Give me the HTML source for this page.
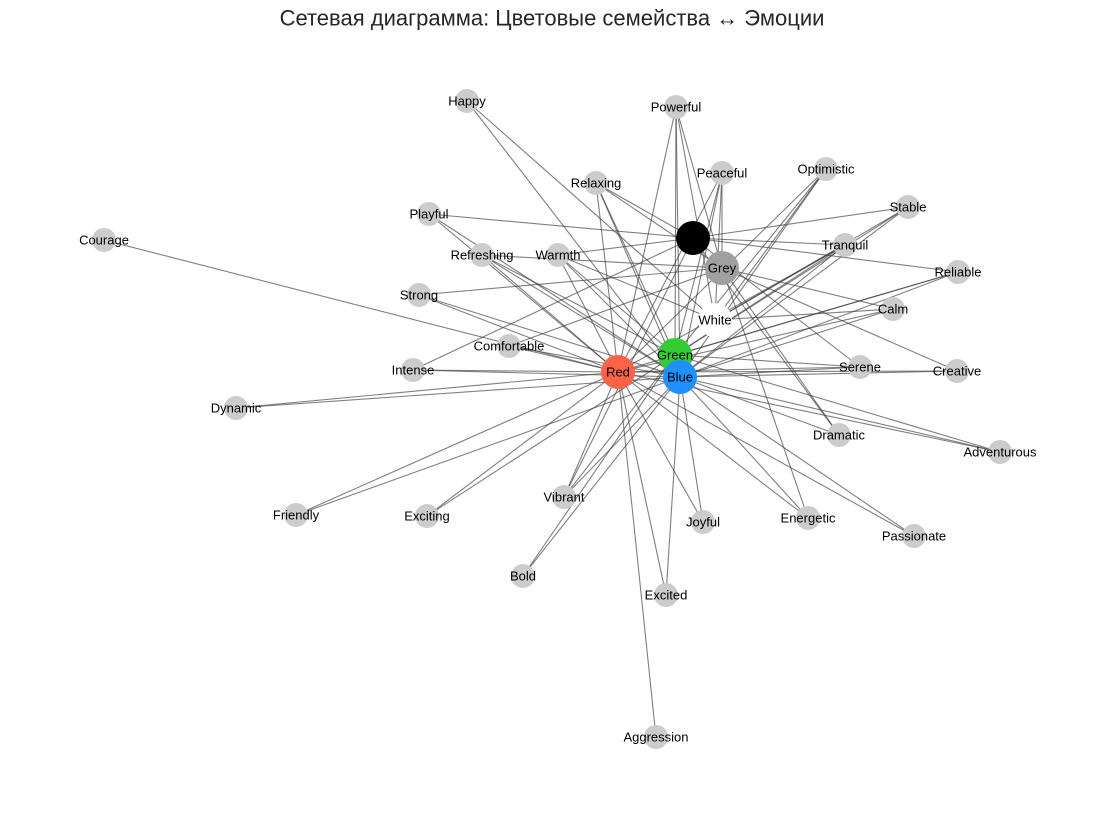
<!DOCTYPE html>
<html><head><meta charset="utf-8"><style>
html,body{margin:0;padding:0;background:#fff;}
svg{display:block;font-family:"Liberation Sans","DejaVu Sans",sans-serif;}
text{font-size:13px;fill:#000;text-anchor:middle;dominant-baseline:central;}
.t{font-size:22px;fill:#262626;}
</style></head><body>
<svg id="s" width="1105" height="814" viewBox="0 0 1105 814">
<text class="t" x="552" y="18">Сетевая диаграмма: Цветовые семейства ↔ Эмоции</text>
<g id="edges" stroke="#3a3a3a" stroke-opacity="0.65" stroke-width="1.1"></g>
<g id="nodes"></g>
<g id="labels">
<text x="467" y="101">Happy</text>
<text x="676" y="107">Powerful</text>
<text x="722" y="173">Peaceful</text>
<text x="826" y="169">Optimistic</text>
<text x="596" y="183">Relaxing</text>
<text x="429" y="214">Playful</text>
<text x="908" y="207">Stable</text>
<text x="104" y="240">Courage</text>
<text x="482" y="255">Refreshing</text>
<text x="558" y="255">Warmth</text>
<text x="845" y="245">Tranquil</text>
<text x="958" y="272">Reliable</text>
<text x="419" y="295">Strong</text>
<text x="893" y="309">Calm</text>
<text x="509" y="346">Comfortable</text>
<text x="413" y="370">Intense</text>
<text x="860" y="367">Serene</text>
<text x="957" y="371">Creative</text>
<text x="236" y="408">Dynamic</text>
<text x="839" y="435">Dramatic</text>
<text x="1000" y="452">Adventurous</text>
<text x="564" y="497">Vibrant</text>
<text x="296" y="515">Friendly</text>
<text x="427" y="516">Exciting</text>
<text x="703" y="522">Joyful</text>
<text x="808" y="518">Energetic</text>
<text x="914" y="536">Passionate</text>
<text x="523" y="576">Bold</text>
<text x="666" y="595">Excited</text>
<text x="656" y="737">Aggression</text>
<text x="722" y="268">Grey</text>
<text x="715" y="320">White</text>
<text x="675" y="355">Green</text>
<text x="618" y="372">Red</text>
<text x="680" y="377">Blue</text>
</g>
</svg>
<script>
var C={Black:[693,238,'#000000'],Grey:[722,268,'#a0a0a0'],White:[715,320,'#ffffff'],Green:[675,355,'#32cd32'],Red:[618,372,'#ff6347'],Blue:[680,377,'#1e90ff']};
var E={Happy:[467,101],Powerful:[676,107],Peaceful:[722,173],Optimistic:[826,169],Relaxing:[596,183],Playful:[429,214],Stable:[908,207],Courage:[104,240],Refreshing:[482,255],Warmth:[558,255],Tranquil:[845,245],Reliable:[958,272],Strong:[419,295],Calm:[893,309],Comfortable:[509,346],Intense:[413,370],Serene:[860,367],Creative:[957,371],Dynamic:[236,408],Dramatic:[839,435],Adventurous:[1000,452],Vibrant:[564,497],Friendly:[296,515],Exciting:[427,516],Joyful:[703,522],Energetic:[808,518],Passionate:[914,536],Bold:[523,576],Excited:[666,595],Aggression:[656,737]};
var L={Happy:['White','Blue'],Powerful:['Green','Red','Grey','Blue','White'],Peaceful:['Red','Green','Blue','Grey','White'],Optimistic:['Green','Blue','White','Red'],Relaxing:['Black','Red','Blue','Grey','Green'],Playful:['Black','Blue','Red'],Stable:['Black','Blue','Green','White'],Courage:['Red'],Refreshing:['Red','Grey','Blue','Green'],Warmth:['Black','Red','Green','Blue','White'],Tranquil:['Red','Green','White','Blue','Black'],Reliable:['Black','Blue','Green','Red'],Strong:['Grey','Red','Blue'],Calm:['Grey','Red','Blue','White'],Comfortable:['Grey','Red','Blue'],Intense:['Red','Blue','Black'],Serene:['Black','Red','Blue','Green'],Creative:['Red','Blue','Grey'],Dynamic:['Red','Blue'],Dramatic:['Black','Grey','Blue'],Adventurous:['Red','Blue','Green'],Vibrant:['Red','Green','Blue','Black'],Friendly:['Red','Blue'],Exciting:['Red','Green'],Joyful:['Red','Blue'],Energetic:['Red','Blue','Grey'],Passionate:['Red','Blue'],Bold:['Green','Blue'],Excited:['Red','Blue'],Aggression:['Red']};
var ns='http://www.w3.org/2000/svg',eg=document.getElementById('edges'),ng=document.getElementById('nodes');
for(var k in L){L[k].forEach(function(c){var l=document.createElementNS(ns,'line');l.setAttribute('x1',E[k][0]);l.setAttribute('y1',E[k][1]);l.setAttribute('x2',C[c][0]);l.setAttribute('y2',C[c][1]);eg.appendChild(l);});}
for(var k in E){var c=document.createElementNS(ns,'circle');c.setAttribute('cx',E[k][0]);c.setAttribute('cy',E[k][1]);c.setAttribute('r',12);c.setAttribute('fill','#cccccc');ng.appendChild(c);}
['Black','Grey','White','Green','Red','Blue'].forEach(function(k){var c=document.createElementNS(ns,'circle');c.setAttribute('cx',C[k][0]);c.setAttribute('cy',C[k][1]);c.setAttribute('r',17);c.setAttribute('fill',C[k][2]);ng.appendChild(c);});
</script>
</body></html>
